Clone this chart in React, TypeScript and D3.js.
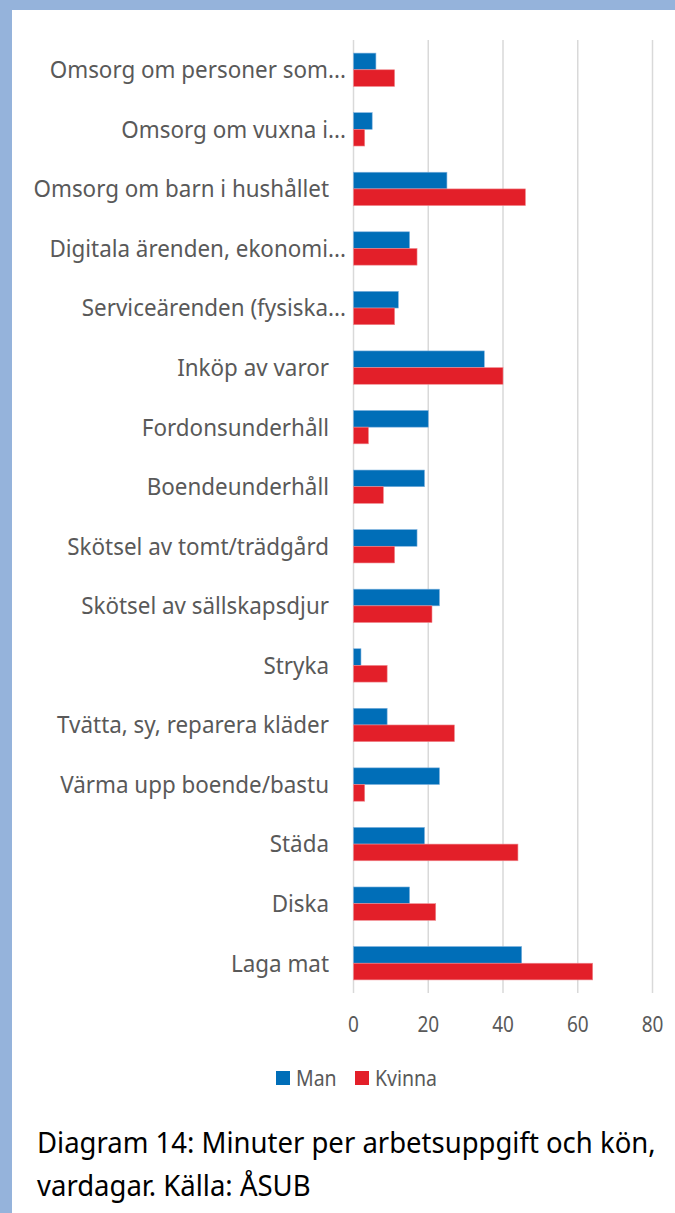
import React from "react";
import * as d3 from "d3";

const categories = [
  "Omsorg om personer som...",
  "Omsorg om vuxna i...",
  "Omsorg om barn i hushållet",
  "Digitala ärenden, ekonomi...",
  "Serviceärenden (fysiska...",
  "Inköp av varor",
  "Fordonsunderhåll",
  "Boendeunderhåll",
  "Skötsel av tomt/trädgård",
  "Skötsel av sällskapsdjur",
  "Stryka",
  "Tvätta, sy, reparera kläder",
  "Värma upp boende/bastu",
  "Städa",
  "Diska",
  "Laga mat",
];
const manValues = [6, 5, 25, 15, 12, 35, 20, 19, 17, 23, 2, 9, 23, 19, 15, 45];
const kvinnaValues = [11, 3, 46, 17, 11, 40, 4, 8, 11, 21, 9, 27, 3, 44, 22, 64];
const seriesNames = ["Man", "Kvinna"];
const seriesColors = ["#006EB8", "#E31F29"];
const xTicks = [0, 20, 40, 60, 80];
const titleLines = ["Diagram 14: Minuter per arbetsuppgift och kön,", "vardagar. Källa: ÅSUB"];

const W = 675;
const H = 1213;
const FONT = "'Noto Sans', 'Open Sans', sans-serif";
const STRETCH = 1.13; // ticks and legend are a bit tall for their width
const LABEL_STRETCH = 1.04;

const App = () => {
  const x = d3.scaleLinear().domain([0, 80]).range([353.5, 652.5]);
  const y = d3.scaleBand().domain(categories).range([40, 993]).paddingInner(0.44).paddingOuter(0.22);
  const sub = d3.scaleBand().domain(seriesNames).range([0, y.bandwidth()]);
  const series = [manValues, kvinnaValues];

  return (
    <svg width={W} height={H} style={{ position: "absolute", left: 0, top: 0 }} fontFamily={FONT}>
      <rect x={0} y={0} width={W} height={H} fill="#95B3DB" />
      <rect x={12} y={10} width={W - 12} height={H - 10} fill="#ffffff" />

      {/* gridlines */}
      {xTicks.map((t) => (
        <line key={t} x1={x(t)} x2={x(t)} y1={40} y2={993} stroke="#D9D9D9" strokeWidth={1.5} />
      ))}

      {/* bars */}
      {categories.map((c, i) => (
        <g key={c} transform={`translate(0, ${y(c)})`}>
          {series.map((vals, s) => (
            <rect
              key={s}
              x={x(0)}
              y={sub(seriesNames[s])}
              width={x(vals[i]) - x(0)}
              height={sub.bandwidth()}
              fill={seriesColors[s]}
              stroke={s === 0 ? "#7FB2DE" : "#F08A8F"}
              strokeWidth={0.6}
            />
          ))}
        </g>
      ))}

      {/* category labels */}
      {categories.map((c) => (
        <text
          key={c}
          transform={`translate(${c.endsWith("...") ? 346 : 329}, ${y(c) + y.bandwidth() / 2}) scale(1, ${LABEL_STRETCH})`}
          dy="0.36em"
          textAnchor="end"
          fontSize={22.4}
          fill="#595959"
        >
          {c}
        </text>
      ))}

      {/* x tick labels */}
      {xTicks.map((t) => (
        <text
          key={t}
          transform={`translate(${x(t)}, 1032) scale(1, ${STRETCH})`}
          textAnchor="middle"
          fontSize={19}
          fill="#595959"
        >
          {t}
        </text>
      ))}

      {/* legend */}
      {seriesNames.map((n, i) => {
        const lx = i === 0 ? 276 : 355;
        return (
          <g key={n}>
            <rect x={lx} y={1071} width={14} height={14} fill={seriesColors[i]} />
            <text transform={`translate(${lx + 20}, 1086) scale(1, ${STRETCH})`} fontSize={19.5} fill="#595959">
              {n}
            </text>
          </g>
        );
      })}

      {/* caption */}
      {titleLines.map((l, i) => (
        <text key={i} transform={`translate(37, ${1153 + i * 43}) scale(1, 1.03)`} fontSize={27.5} fill="#000000">
          {l}
        </text>
      ))}
    </svg>
  );
};

export default App;
